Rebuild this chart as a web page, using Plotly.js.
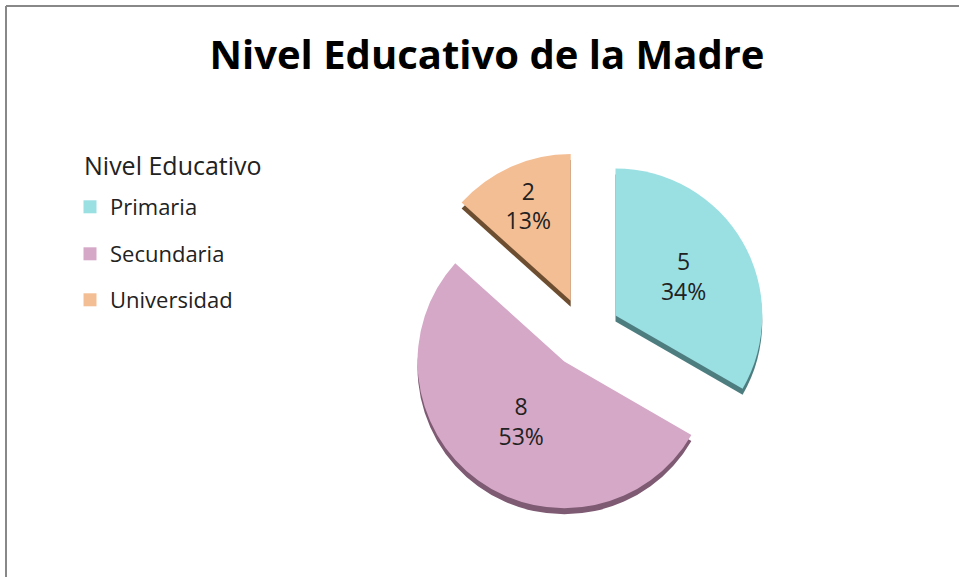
<!DOCTYPE html>
<html>
<head>
<meta charset="utf-8">
<script src="https://cdn.plot.ly/plotly-3.0.1.min.js"></script>
<style>html,body{margin:0;padding:0;background:#fff;}#chart{width:959px;height:577px;}</style>
</head>
<body>
<div id="chart"></div>
<script>
// ---- data ----
const labels = ["Primaria", "Secundaria", "Universidad"];
const values = [5, 8, 2];
const percentLabels = ["34%", "53%", "13%"];
const legendTitle = "Nivel Educativo";
const chartTitle = "Nivel Educativo de la Madre";

// ---- styles ----
const sliceColors = ["#9ADFE2", "#D5A8C8", "#F4BE94"];
const sideColors = ["#4E7D80", "#7E5A73", "#6E4E30"];

const W = 959, H = 577;
const cx = 585, cy = 333, half = 182; // pie box incl. pull
const depth = 6;
function dom(dy) {
  return {
    x: [(cx - half) / W, (cx + half) / W],
    y: [(H - (cy + dy) - half) / H, (H - (cy + dy) + half) / H]
  };
}

const shadow = {
  type: "pie", labels: labels, values: values, sort: false, direction: "clockwise", rotation: 0,
  pull: 0.24, domain: dom(depth), marker: {colors: sideColors, line: {width: 0}},
  textinfo: "none", hoverinfo: "skip", showlegend: false
};
const pie = {
  type: "pie", labels: labels, values: values, text: percentLabels, sort: false,
  direction: "clockwise", rotation: 0, pull: 0.24, domain: dom(0),
  marker: {colors: sliceColors, line: {width: 0}},
  texttemplate: "%{value}<br>%{text}", textposition: "inside", insidetextorientation: "horizontal",
  textfont: {family: "Open Sans", size: 23, color: "#222"},
  hovertemplate: "%{label}: %{value} (%{text})<extra></extra>",
  showlegend: false
};

// legend entries (one legend per item so spacing matches the reference)
const legendIds = ["legend", "legend2", "legend3"];
const legendTraces = labels.map((lab, i) => ({
  type: "scatter", mode: "markers", x: [null], y: [null], name: lab,
  marker: {symbol: "square", size: 13, color: sliceColors[i]},
  legend: legendIds[i], showlegend: true, hoverinfo: "skip"
}));

const itemY = [207, 254, 300];
const legendFont = {family: "Open Sans", size: 22, color: "#222"};
const layout = {
  width: W, height: H, margin: {l: 0, r: 0, t: 0, b: 0},
  paper_bgcolor: "#fff", plot_bgcolor: "rgba(0,0,0,0)", showlegend: true,
  xaxis: {visible: false}, yaxis: {visible: false},
  title: {text: "<b>" + chartTitle + "</b>", x: 487 / W, xanchor: "center", y: 1 - 55 / H, yanchor: "middle",
          font: {family: "Open Sans", size: 40, color: "#000"}},
  annotations: [{
    text: legendTitle, xref: "paper", yref: "paper", x: 82 / W, xanchor: "left", y: 1 - 165 / H, yanchor: "middle",
    showarrow: false, font: {family: "Open Sans", size: 25, color: "#222"}
  }],
  shapes: [
    {type: "line", xref: "paper", yref: "paper", x0: 6 / W, x1: 1.01, y0: 1 - 6 / H, y1: 1 - 6 / H, line: {color: "#888", width: 2}},
    {type: "line", xref: "paper", yref: "paper", x0: 6 / W, x1: 6 / W, y0: 1 - 6 / H, y1: -0.01, line: {color: "#888", width: 2}}
  ]
};
legendIds.forEach((id, i) => {
  layout[id] = {x: 70 / W, xanchor: "left", y: 1 - itemY[i] / H, yanchor: "middle",
                font: legendFont, bgcolor: "rgba(0,0,0,0)"};
});

Plotly.newPlot("chart", [shadow, pie].concat(legendTraces), layout, {displayModeBar: false});
</script>
</body>
</html>
